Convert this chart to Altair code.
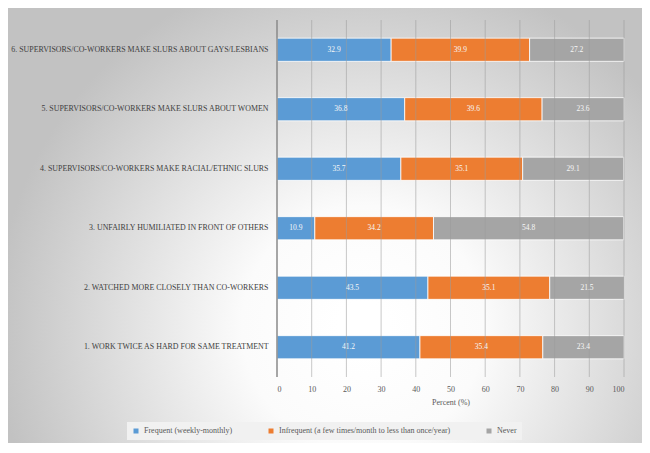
import altair as alt
import pandas as pd

items = [
    "6. SUPERVISORS/CO-WORKERS MAKE SLURS ABOUT GAYS/LESBIANS",
    "5. SUPERVISORS/CO-WORKERS MAKE SLURS ABOUT WOMEN",
    "4. SUPERVISORS/CO-WORKERS MAKE RACIAL/ETHNIC SLURS",
    "3. UNFAIRLY HUMILIATED IN FRONT OF OTHERS",
    "2. WATCHED MORE CLOSELY THAN CO-WORKERS",
    "1. WORK TWICE AS HARD FOR SAME TREATMENT",
]
series = [
    "Frequent (weekly-monthly)",
    "Infrequent (a few times/month to less than once/year)",
    "Never",
]
frequent = [32.9, 36.8, 35.7, 10.9, 43.5, 41.2]
infrequent = [39.9, 39.6, 35.1, 34.2, 35.1, 35.4]
never = [27.2, 23.6, 29.1, 54.8, 21.5, 23.4]
colors = ["#5B9BD5", "#ED7D31", "#A5A5A5"]
ticks = [0, 10, 20, 30, 40, 50, 60, 70, 80, 90, 100]
axis_at = [0]

rows = []
for i, it in enumerate(items):
    for k, (s, vals) in enumerate(zip(series, [frequent, infrequent, never])):
        rows.append({"item": it, "series": s, "value": vals[i], "order": k})
df = pd.DataFrame(rows)
grid_df = pd.DataFrame({"t": ticks[1:]})
axis_df = pd.DataFrame({"t": axis_at})
bg_df = pd.DataFrame({"k": [0]})

FONT = "Liberation Serif"
W, H = 347, 357
PAD = {"left": 269, "top": 12, "right": 18, "bottom": 66}

xscale = alt.Scale(domain=[0, 100], nice=False, zero=True)
xaxis = alt.Axis(
    values=ticks, grid=False, ticks=False, domain=False, zindex=1,
    labelOverlap=False, labelColor="#595959",
    labelFont=FONT, labelFontSize=8, labelPadding=8,
    title="Percent (%)", titleFont=FONT, titleFontSize=8, titleFontWeight="normal",
    titleColor="#595959", titlePadding=5,
)
yaxis = alt.Axis(
    title=None, ticks=False, domain=False,
    zindex=1, labelFont=FONT, labelFontSize=7.9, labelColor="#404040",
    labelPadding=9, labelLimit=400,
)
yenc = alt.Y("item:N", sort=items, axis=yaxis,
             scale=alt.Scale(paddingInner=0.61, paddingOuter=0.305))

gradient = {
    "gradient": "radial",
    "x1": 0.56, "y1": 0.66, "r1": 0.04,
    "x2": 0.56, "y2": 0.66, "r2": 0.58,
    "stops": [
        {"offset": 0, "color": "#ffffff"},
        {"offset": 0.28, "color": "#fbfbfb"},
        {"offset": 1, "color": "#c2c2c2"},
    ],
}
bg = alt.Chart(bg_df).mark_rect(fill=gradient, strokeWidth=0).encode(
    x=alt.value(-PAD["left"]), x2=alt.value(W + PAD["right"]),
    y=alt.value(-PAD["top"]), y2=alt.value(H + PAD["bottom"]),
)

base = alt.Chart(df).transform_stack(
    stack="value", groupby=["item"], sort=[alt.SortField("order")], as_=["x0", "x1"]
).transform_calculate(mid="(datum.x0 + datum.x1) / 2")

bars = base.mark_bar(stroke="white", strokeWidth=0.8).encode(
    x=alt.X("x0:Q", scale=xscale, axis=xaxis),
    x2="x1:Q",
    y=yenc,
    color=alt.Color(
        "series:N",
        scale=alt.Scale(domain=series, range=colors),
        legend=alt.Legend(
            title=None, orient="none", legendX=-150, legendY=402,
            direction="horizontal", columns=3, columnPadding=34,
            symbolType="square", symbolSize=25, symbolStrokeWidth=0,
            labelFont=FONT, labelFontSize=8, labelColor="#595959", labelOffset=4,
            labelLimit=400, padding=5, fillColor="#f1f1f1",
        ),
    ),
)

# gridlines drawn above the bars, semi-transparent so they show faintly through them
grid = alt.Chart(grid_df).mark_rule(color="#9a9a9a", strokeWidth=1, opacity=0.55).encode(
    x=alt.X("t:Q", scale=xscale, axis=xaxis),
    y=alt.value(0),
    y2=alt.value(H),
)
yline = alt.Chart(axis_df).mark_rule(color="#8a8a8a", strokeWidth=1.5).encode(
    x=alt.X("t:Q", scale=xscale, axis=xaxis),
    y=alt.value(0),
    y2=alt.value(H),
)

labels = base.mark_text(font=FONT, fontSize=7.5, color="#f7f7f7").encode(
    x=alt.X("mid:Q", scale=xscale, axis=xaxis),
    y=yenc,
    text=alt.Text("value:Q", format=".1f"),
)

chart = alt.layer(bg, bars, grid, yline, labels).properties(
    width=W, height=H, autosize=alt.AutoSizeParams(type="none"),
    padding=PAD, background="#c9c9c9",
).configure_view(strokeWidth=0)

chart.save("out.html", embed_options={"renderer": "svg", "actions": False})
